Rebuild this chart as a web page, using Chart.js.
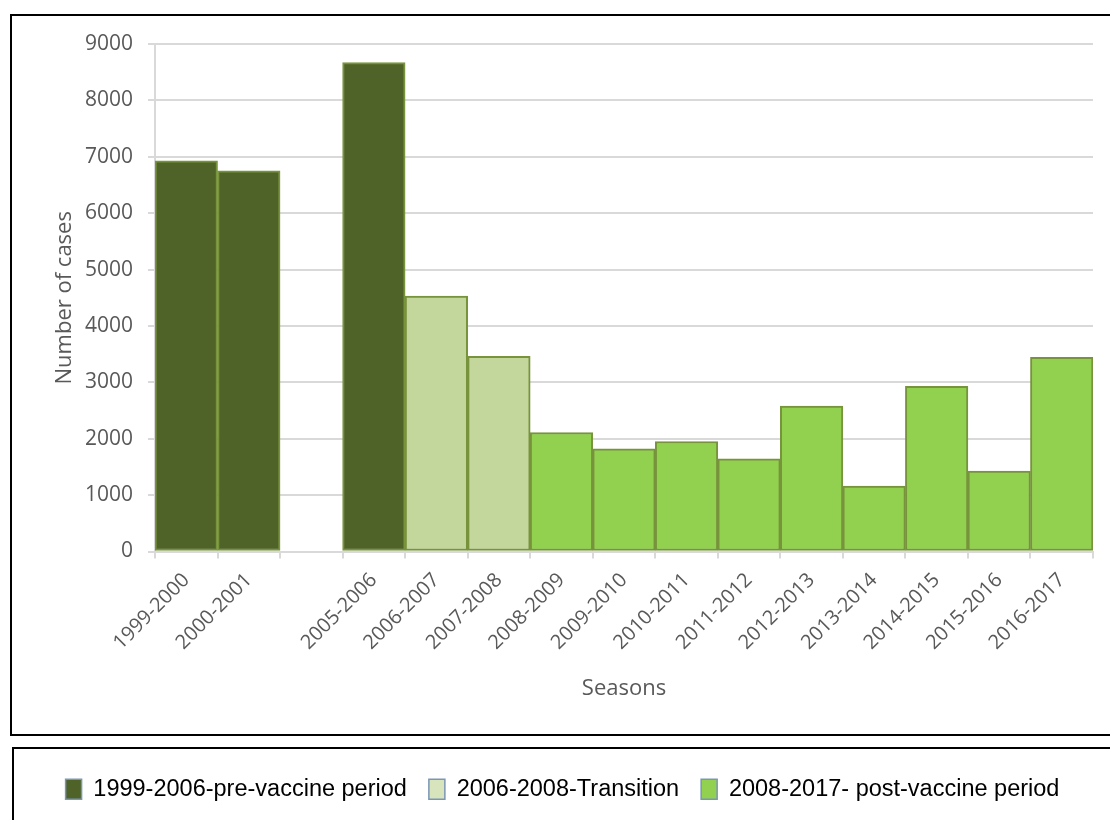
<!DOCTYPE html>
<html>
<head>
<meta charset="utf-8">
<title>Number of cases by season</title>
<script src="https://cdn.jsdelivr.net/npm/chart.js@4.4.1/dist/chart.umd.min.js"></script>
<style>
  html, body { margin: 0; padding: 0; background: #ffffff; }
  canvas { display: block; }
</style>
</head>
<body>
<canvas id="seasonChart" width="1110" height="820"></canvas>
<script>
// Seasons on the x axis (the blank slot marks the years with no data)
const seasons = [
  '1999-2000', '2000-2001', '', '2005-2006', '2006-2007', '2007-2008',
  '2008-2009', '2009-2010', '2010-2011', '2011-2012', '2012-2013',
  '2013-2014', '2014-2015', '2015-2016', '2016-2017'
];

// Number of cases per season, split by vaccination period
const preVaccine  = [6930, 6750, null, 8670, null, null, null, null, null, null, null, null, null, null, null];
const transition  = [null, null, null, null, 4530, 3460, null, null, null, null, null, null, null, null, null];
const postVaccine = [null, null, null, null, null, null, 2110, 1820, 1950, 1645, 2580, 1160, 2930, 1425, 3445];

const periodNames = ['1999-2006-pre-vaccine period', '2006-2008-Transition', '2008-2017- post-vaccine period'];
const yTicks = [0, 1000, 2000, 3000, 4000, 5000, 6000, 7000, 8000, 9000];

const barFills    = ['#4f6228', '#c3d69b', '#92d050'];
const legendFills = ['#4f6228', '#d8e4bc', '#92d050'];
const barEdge     = '#77933c';
const axisGrey    = '#d9d9d9';
const textGrey    = '#595959';

// Black frames around the plot panel and the legend panel
const framePlugin = {
  id: 'frames',
  afterDraw(chart) {
    const ctx = chart.ctx;
    ctx.save();
    ctx.strokeStyle = '#000000';
    ctx.lineWidth = 2;
    ctx.strokeRect(11, 15, 1110, 720);
    ctx.strokeRect(13, 748, 1110, 100);
    ctx.restore();
  }
};

const series = [preVaccine, transition, postVaccine];

new Chart(document.getElementById('seasonChart'), {
  type: 'bar',
  data: {
    labels: seasons,
    datasets: series.map((values, i) => ({
      label: periodNames[i],
      data: values,
      backgroundColor: barFills[i],
      borderColor: barEdge,
      borderWidth: 2,
      borderSkipped: false,
      barPercentage: 1,
      categoryPercentage: 1
    }))
  },
  options: {
    responsive: false,
    animation: false,
    devicePixelRatio: 1,
    layout: { padding: { left: 32, right: 17, top: 44, bottom: 9 } },
    plugins: {
      tooltip: { enabled: false },
      legend: {
        position: 'bottom',
        labels: {
          boxWidth: 16,
          boxHeight: 20,
          padding: 22,
          color: '#000000',
          font: { family: 'Liberation Sans', size: 23.5 },
          generateLabels: chart => chart.data.datasets.map((ds, i) => ({
            text: ds.label,
            fillStyle: legendFills[i],
            strokeStyle: '#7a95b5',
            lineWidth: 1.5,
            hidden: false,
            datasetIndex: i,
            fontColor: '#000000'
          }))
        }
      }
    },
    scales: {
      x: {
        stacked: true,
        grid: { offset: true, drawOnChartArea: false, drawTicks: true, tickLength: 7, color: axisGrey, lineWidth: 2 },
        border: { display: true, color: axisGrey, width: 2 },
        ticks: {
          autoSkip: false, maxRotation: 45, minRotation: 45, padding: 10,
          color: textGrey, font: { family: 'Open Sans', size: 20 }
        },
        title: {
          display: true, text: 'Seasons', color: textGrey,
          font: { family: 'Open Sans', size: 22 }, padding: { top: 0, bottom: 54 }
        },
        afterFit: scale => { scale.height = 204; }
      },
      y: {
        stacked: true,
        min: 0,
        max: 9000,
        afterBuildTicks: scale => { scale.ticks = yTicks.map(v => ({ value: v })); },
        grid: { color: axisGrey, lineWidth: 2, tickLength: 7 },
        border: { display: true, color: axisGrey, width: 2 },
        ticks: {
          padding: 15, color: textGrey, font: { family: 'Open Sans', size: 21 },
          callback: v => String(v)
        },
        title: {
          display: true, text: 'Number of cases', color: textGrey,
          font: { family: 'Open Sans', size: 22 }, padding: { top: 20, bottom: 0 }
        },
        afterFit: scale => { scale.width = 123; }
      }
    }
  },
  plugins: [framePlugin]
});
</script>
</body>
</html>
